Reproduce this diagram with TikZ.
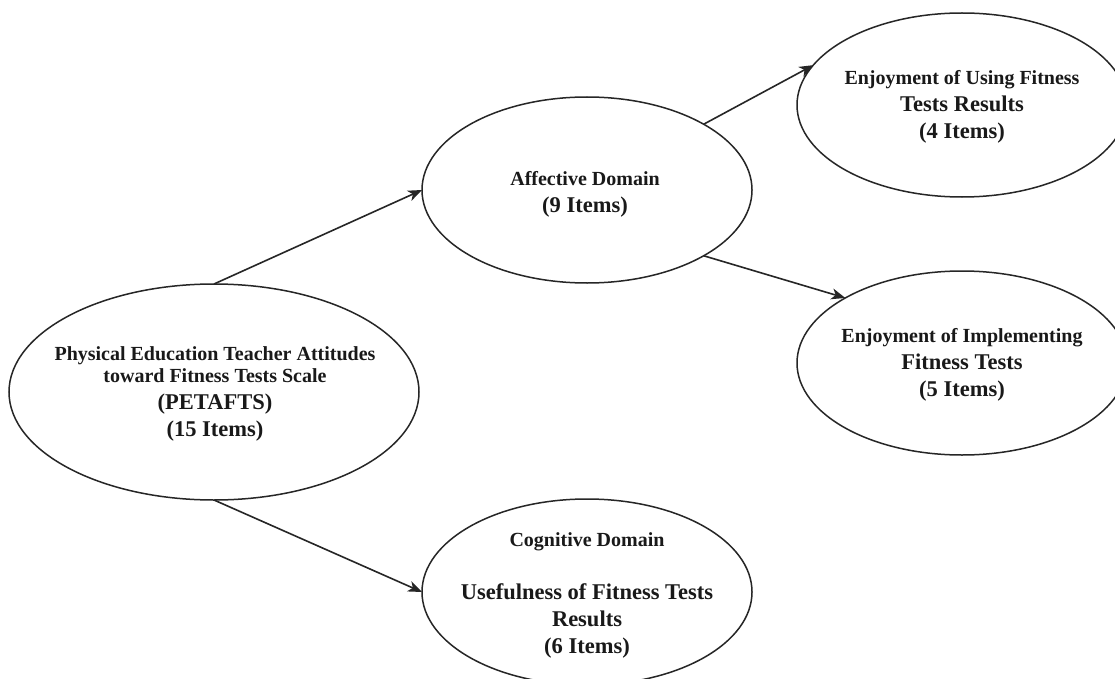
\documentclass[tikz,border=0pt]{standalone}
\usepackage{fontspec}
\setmainfont{Liberation Serif}
\usetikzlibrary{arrows.meta,shapes.geometric}
\newcommand\txtA{\fontsize{20}{27}\selectfont}
\newcommand\txtB{\fontsize{22.5}{27}\selectfont}
\tikzset{
  oval/.style={ellipse,draw=black!85,line width=1.5pt,inner sep=0pt,outer sep=0pt},
  label text/.style={align=center,inner sep=0pt,font=\bfseries\txtA,text=black!90},
  conn/.style={draw=black!85,line width=1.6pt,-{Stealth[length=14pt,width=11pt,inset=4pt]}}
}
\begin{document}
\begin{tikzpicture}[x=1pt,y=-1pt]
\useasboundingbox (0,0) rectangle (1115,679);
\fill[white] (0,0) rectangle (1115,679);

\node[oval,minimum width=410pt,minimum height=216pt] (pe) at (214,392) {};
\node[oval,minimum width=330pt,minimum height=186pt] (aff) at (587,190) {};
\node[oval,minimum width=330pt,minimum height=184pt] (use) at (962,105) {};
\node[oval,minimum width=330pt,minimum height=184pt] (imp) at (962,363) {};
\node[oval,minimum width=330pt,minimum height=186pt] (cog) at (587,592) {};

\node[label text] (pe-t) at (215,394) {Physical Education Teacher Attitudes\\[-5pt]toward Fitness Tests Scale\\{\txtB (PETAFTS)}\\{\txtB (15 Items)}};
\node[label text] (aff-t) at (585,194) {Affective Domain\\{\txtB (9 Items)}};
\node[label text] (use-t) at (962,107) {Enjoyment of Using Fitness\\{\txtB Tests Results}\\{\txtB (4 Items)}};
\node[label text] (imp-t) at (962,365) {Enjoyment of Implementing\\{\txtB Fitness Tests}\\{\txtB (5 Items)}};
\node[label text] (cog-t) at (587,595) {Cognitive Domain\\[26pt]{\txtB Usefulness of Fitness Tests}\\{\txtB Results}\\{\txtB (6 Items)}};

\draw[conn] (pe.north) -- (aff.west);
\draw[conn] (pe.south) -- (cog.west);
\draw[conn] (aff.north east) -- (use.165);
\draw[conn] (aff.south east) -- (imp.north west);
\end{tikzpicture}
\end{document}
